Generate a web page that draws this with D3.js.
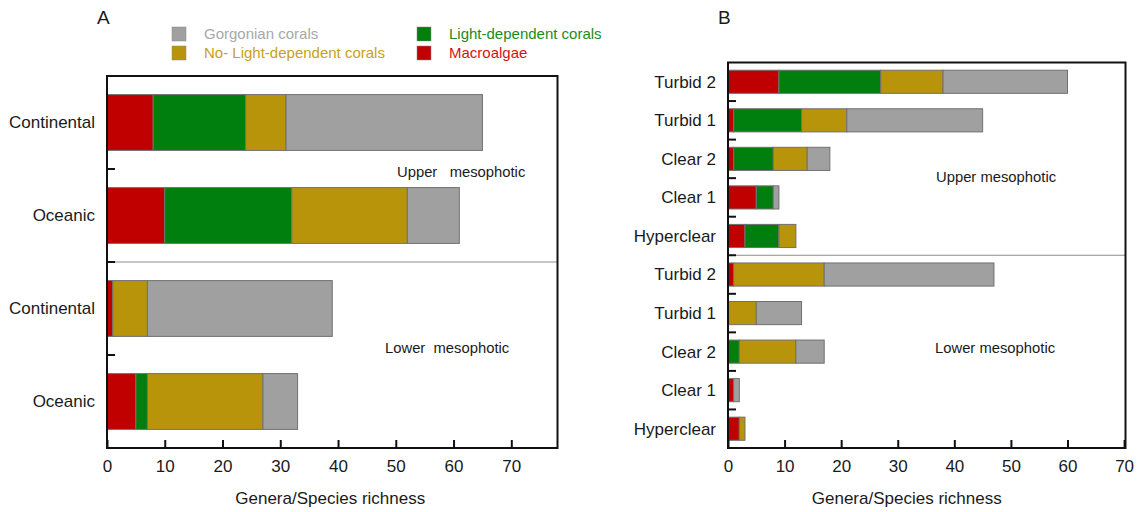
<!DOCTYPE html>
<html lang="en">
<head>
  <meta charset="UTF-8">
  <title>Genera/Species richness</title>
  <script src="https://d3js.org/d3.v7.min.js"></script>
  <style>
    body { margin: 0; background: #fff; }
    text { font-family: "Liberation Sans", Arial, sans-serif; fill: #1a1a1a; }
  </style>
</head>
<body>
<div class="canvas"></div>
<script>
  // series, in stacking order (left to right)
  const seriesKeys = ["macro", "light", "noLight", "gorg"];
  const seriesLabels = ["Macroalgae", "Light-dependent corals", "No- Light-dependent corals", "Gorgonian corals"];
  const fills = ["#c00000", "#007f0e", "#b8940a", "#a0a0a0"];
  const legendText = ["#d01515", "#1d8a22", "#c9a018", "#a8a8a8"];

  // panel A : shelf type, upper mesophotic then lower mesophotic
  const catsA = ["Continental", "Oceanic", "Continental", "Oceanic"];
  const macroA = [8, 10, 1, 5];
  const lightA = [16, 22, 0, 2];
  const noLightA = [7, 20, 6, 20];
  const gorgA = [34, 9, 32, 6];

  // panel B : water clarity, upper mesophotic then lower mesophotic
  const catsB = ["Turbid 2", "Turbid 1", "Clear 2", "Clear 1", "Hyperclear",
                 "Turbid 2", "Turbid 1", "Clear 2", "Clear 1", "Hyperclear"];
  const macroB = [9, 1, 1, 5, 3, 1, 0, 0, 1, 2];
  const lightB = [18, 12, 7, 3, 6, 0, 0, 2, 0, 0];
  const noLightB = [11, 8, 6, 0, 3, 16, 5, 10, 0, 1];
  const gorgB = [22, 24, 4, 1, 0, 30, 8, 5, 1, 0];

  const xTicks = [0, 10, 20, 30, 40, 50, 60, 70];

  const svg = d3.select('.canvas')
    .append('svg')
    .attr('width', 1139)
    .attr('height', 512)

  function rows(cats, macro, light, noLight, gorg) {
    return cats.map((c, i) => ({
      id: String(i), name: c,
      macro: macro[i], light: light[i], noLight: noLight[i], gorg: gorg[i]
    }))
  }

  function panel(opt) {
    const data = rows(opt.cats, opt.macro, opt.light, opt.noLight, opt.gorg)
    const g = svg.append('g')

    const x = d3.scaleLinear().domain([0, opt.xMax]).range([opt.left, opt.right])
    const y = d3.scaleBand().domain(data.map(d => d.id))
      .range([opt.top, opt.bottom]).paddingInner(0.4).paddingOuter(0.2)

    const stacked = d3.stack().keys(seriesKeys)(data)

    // separator between upper and lower mesophotic
    const half = data.length / 2
    const sepY = opt.top + (opt.bottom - opt.top) * half / data.length
    g.append('line')
      .attr('x1', opt.left).attr('x2', opt.right)
      .attr('y1', sepY).attr('y2', sepY)
      .attr('stroke', '#8c8c8c').attr('stroke-width', 1)

    g.selectAll('g.series')
      .data(stacked)
      .enter()
      .append('g')
      .attr('fill', (d, i) => fills[i])
      .selectAll('rect')
      .data(d => d.filter(s => s[1] > s[0]))
      .enter()
      .append('rect')
      .attr('x', d => x(d[0]))
      .attr('width', d => x(d[1]) - x(d[0]))
      .attr('y', d => y(d.data.id))
      .attr('height', y.bandwidth())
      .attr('stroke', '#707070')
      .attr('stroke-width', 1)

    // category labels
    g.selectAll('text.cat')
      .data(data)
      .enter()
      .append('text')
      .attr('x', opt.left - 12)
      .attr('y', d => y(d.id) + y.bandwidth() / 2)
      .attr('dy', '0.35em')
      .attr('text-anchor', 'end')
      .style('font-size', '17px')
      .text(d => d.name)

    // inward ticks at band boundaries
    const step = (opt.bottom - opt.top) / data.length
    g.selectAll('line.ytick')
      .data(d3.range(1, data.length))
      .enter()
      .append('line')
      .attr('x1', opt.left).attr('x2', opt.left + 8)
      .attr('y1', i => opt.top + i * step).attr('y2', i => opt.top + i * step)
      .attr('stroke', '#111').attr('stroke-width', 2)

    // x axis, ticks pointing inward
    const xAxis = g.append('g')
      .attr('transform', `translate(0,${opt.bottom})`)
      .call(d3.axisBottom(x).tickValues(xTicks).tickSizeInner(-8).tickSizeOuter(0).tickPadding(12))
    xAxis.select('.domain').remove()
    xAxis.selectAll('line').attr('stroke', '#111').attr('stroke-width', 2)
    xAxis.selectAll('text')
      .style('font-size', '17px')
      .style('font-family', '"Liberation Sans", Arial, sans-serif')
      .attr('fill', '#1a1a1a')

    g.append('text')
      .attr('x', (opt.left + opt.right) / 2 + opt.titleShift)
      .attr('y', 504)
      .attr('text-anchor', 'middle')
      .style('font-size', '17px')
      .text('Genera/Species richness')

    // frame
    g.append('rect')
      .attr('x', opt.left).attr('y', opt.top)
      .attr('width', opt.right - opt.left).attr('height', opt.bottom - opt.top)
      .attr('fill', 'none').attr('stroke', '#111').attr('stroke-width', 2)

    // zone labels
    opt.zones.forEach(z => {
      g.append('text')
        .attr('x', z.x).attr('y', z.y)
        .attr('dy', '0.35em')
        .style('font-size', '14.8px')
        .style('white-space', 'pre')
        .attr('xml:space', 'preserve')
        .text(z.t)
    })

    g.append('text')
      .attr('x', opt.letterX).attr('y', 24)
      .style('font-size', '19px')
      .text(opt.letter)
  }

  panel({
    cats: catsA, macro: macroA, light: lightA, noLight: noLightA, gorg: gorgA,
    left: 107, right: 557.5, top: 76, bottom: 448, xMax: 78,
    titleShift: -2, letter: 'A', letterX: 97,
    zones: [{ t: 'Upper   mesophotic', x: 397, y: 172 }, { t: 'Lower  mesophotic', x: 385, y: 348 }]
  })

  panel({
    cats: catsB, macro: macroB, light: lightB, noLight: noLightB, gorg: gorgB,
    left: 728, right: 1125.5, top: 62.5, bottom: 448, xMax: 70.25,
    titleShift: -20, letter: 'B', letterX: 718,
    zones: [{ t: 'Upper mesophotic', x: 936, y: 177 }, { t: 'Lower mesophotic', x: 935, y: 348 }]
  })

  // legend
  const legendItems = [
    { k: 3, x: 172, y: 27 }, { k: 2, x: 172, y: 46 },
    { k: 1, x: 417, y: 27 }, { k: 0, x: 417, y: 46 }
  ]
  const lg = svg.append('g')
  lg.selectAll('rect')
    .data(legendItems)
    .enter()
    .append('rect')
    .attr('x', d => d.x).attr('y', d => d.y)
    .attr('width', 14).attr('height', 14)
    .attr('fill', d => fills[d.k])
    .attr('stroke', '#888').attr('stroke-width', 0.5)
  lg.selectAll('text')
    .data(legendItems)
    .enter()
    .append('text')
    .attr('x', d => d.x + 32).attr('y', d => d.y + 7)
    .attr('dy', '0.35em')
    .style('font-size', '15px')
    .style('fill', d => legendText[d.k])
    .text(d => seriesLabels[d.k])
</script>
</body>
</html>
